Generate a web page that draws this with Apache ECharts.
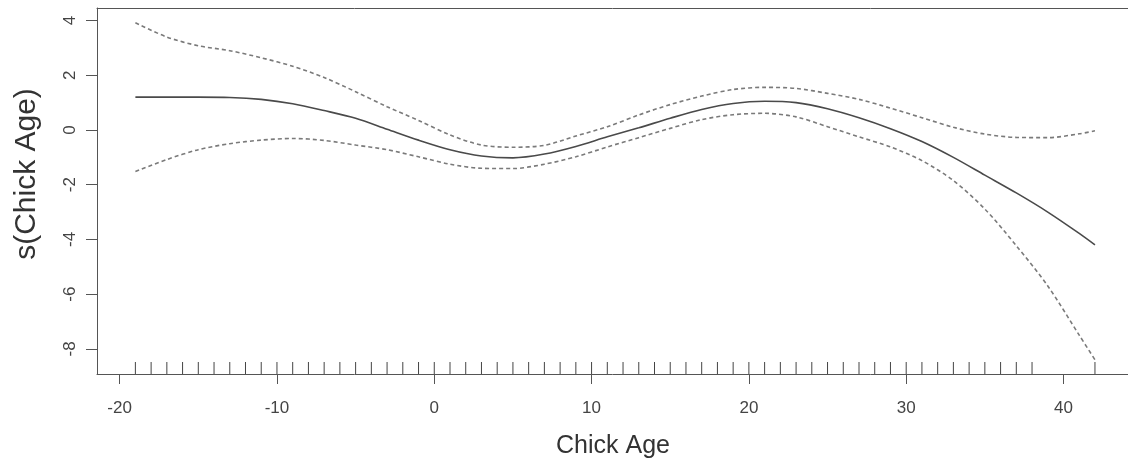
<!DOCTYPE html>
<html>
<head>
<meta charset="utf-8">
<script src="https://cdn.jsdelivr.net/npm/echarts@6/dist/echarts.min.js"></script>
<style>
  html, body { margin: 0; padding: 0; background: #fff; }
  #chart { width: 1128px; height: 461px; }
</style>
</head>
<body>
<div id="chart"></div>
<script>
// Chick age grid and smooth term estimate with its confidence band
const ageX = [-19, -17, -15, -13, -11, -9, -7, -5, -3, -1, 1, 3, 5, 7, 9, 11,
  13, 15, 17, 19, 21, 23, 25, 27, 29, 31, 33, 35, 37, 39, 41, 42];
const fitY = [1.20, 1.20, 1.20, 1.19, 1.12, 0.96, 0.71, 0.43, 0.03, -0.37, -0.72, -0.95,
  -1.02, -0.88, -0.60, -0.25, 0.08, 0.43, 0.75, 0.97, 1.05, 1.00, 0.78, 0.45, 0.05, -0.42,
  -1.00, -1.65, -2.30, -3.00, -3.78, -4.20];
const upperY = [3.92, 3.40, 3.08, 2.90, 2.64, 2.33, 1.92, 1.40, 0.85, 0.35, -0.18, -0.55,
  -0.63, -0.56, -0.22, 0.12, 0.55, 0.93, 1.24, 1.48, 1.56, 1.52, 1.34, 1.12, 0.80, 0.45,
  0.10, -0.15, -0.27, -0.28, -0.14, -0.03];
const lowerY = [-1.52, -1.08, -0.72, -0.50, -0.37, -0.31, -0.38, -0.55, -0.72, -0.98, -1.25,
  -1.40, -1.41, -1.25, -0.98, -0.62, -0.28, 0.06, 0.38, 0.56, 0.61, 0.48, 0.12, -0.25, -0.62,
  -1.12, -1.85, -2.89, -4.23, -5.70, -7.50, -8.40];

// rug of observed ages
const rugX = [-19, -18, -17, -16, -15, -14, -13, -12, -11, -10, -9, -8, -7, -6, -5, -4, -3,
  -2, -1, 0, 1, 2, 3, 4, 5, 6, 7, 8, 9, 10, 11, 12, 13, 14, 15, 16, 17, 18, 19, 20, 21, 22,
  23, 24, 25, 26, 27, 28, 29, 30, 31, 32, 33, 34, 35, 36, 37, 38, 42];

const xTicks = [-20, -10, 0, 10, 20, 30, 40];
const yTicks = [-8, -6, -4, -2, 0, 2, 4];

const X_MIN = -21.44, X_MAX = 44.1;
const Y_MIN = -8.92, Y_MAX = 4.46;

const chart = echarts.init(document.getElementById('chart'), null, { renderer: 'canvas' });

const pairs = (ys) => ageX.map((x, i) => [x, ys[i]]);
const FONT = 'Liberation Sans, Arial, sans-serif';
const axisText = { color: '#444', fontFamily: FONT, fontSize: 17 };
const boxLine = { show: true, onZero: false, lineStyle: { color: '#555', width: 1 } };
const dashed = { color: '#7a7a7a', width: 1.6, type: [4, 3] };

chart.setOption({
  backgroundColor: '#fff',
  animation: false,
  grid: { left: 97, right: 0, top: 8, bottom: 87 },
  xAxis: [
    {
      type: 'value', position: 'bottom',
      min: X_MIN, max: X_MAX,
      splitLine: { show: false },
      axisLine: boxLine,
      axisTick: { show: true, inside: false, length: 10, customValues: xTicks, lineStyle: { color: '#555' } },
      axisLabel: { ...axisText, margin: 26, customValues: xTicks }
    },
    {
      // top edge of the plot box
      type: 'value', position: 'top',
      min: X_MIN, max: X_MAX,
      splitLine: { show: false },
      axisLine: boxLine,
      axisTick: { show: false },
      axisLabel: { show: false }
    }
  ],
  yAxis: {
    type: 'value',
    min: Y_MIN, max: Y_MAX,
    splitLine: { show: false },
    axisLine: boxLine,
    axisTick: { show: true, inside: false, length: 11, customValues: yTicks, lineStyle: { color: '#555' } },
    axisLabel: { ...axisText, rotate: 90, margin: 18, customValues: yTicks }
  },
  graphic: [
    {
      type: 'text', x: 613, y: 446,
      style: {
        text: 'Chick Age', fill: '#333', font: '25px ' + FONT,
        align: 'center', verticalAlign: 'middle'
      }
    },
    {
      type: 'text', x: 27, y: 174, rotation: Math.PI / 2,
      style: {
        text: 's(Chick Age)', fill: '#333', font: '30px ' + FONT,
        align: 'center', verticalAlign: 'middle'
      }
    }
  ],
  series: [
    { type: 'line', data: pairs(upperY), smooth: 0.3, showSymbol: false, lineStyle: dashed },
    { type: 'line', data: pairs(lowerY), smooth: 0.3, showSymbol: false, lineStyle: dashed },
    {
      type: 'line', data: pairs(fitY), smooth: 0.3, showSymbol: false,
      lineStyle: { color: '#4a4a4a', width: 1.6 }
    },
    {
      type: 'custom',
      data: rugX.map((x) => [x]),
      renderItem: (params, api) => {
        const p = api.coord([api.value(0), Y_MIN]);
        return {
          type: 'line',
          shape: { x1: p[0], y1: p[1], x2: p[0], y2: p[1] - 12 },
          style: { stroke: '#444', lineWidth: 1 }
        };
      }
    }
  ]
});
</script>
</body>
</html>
